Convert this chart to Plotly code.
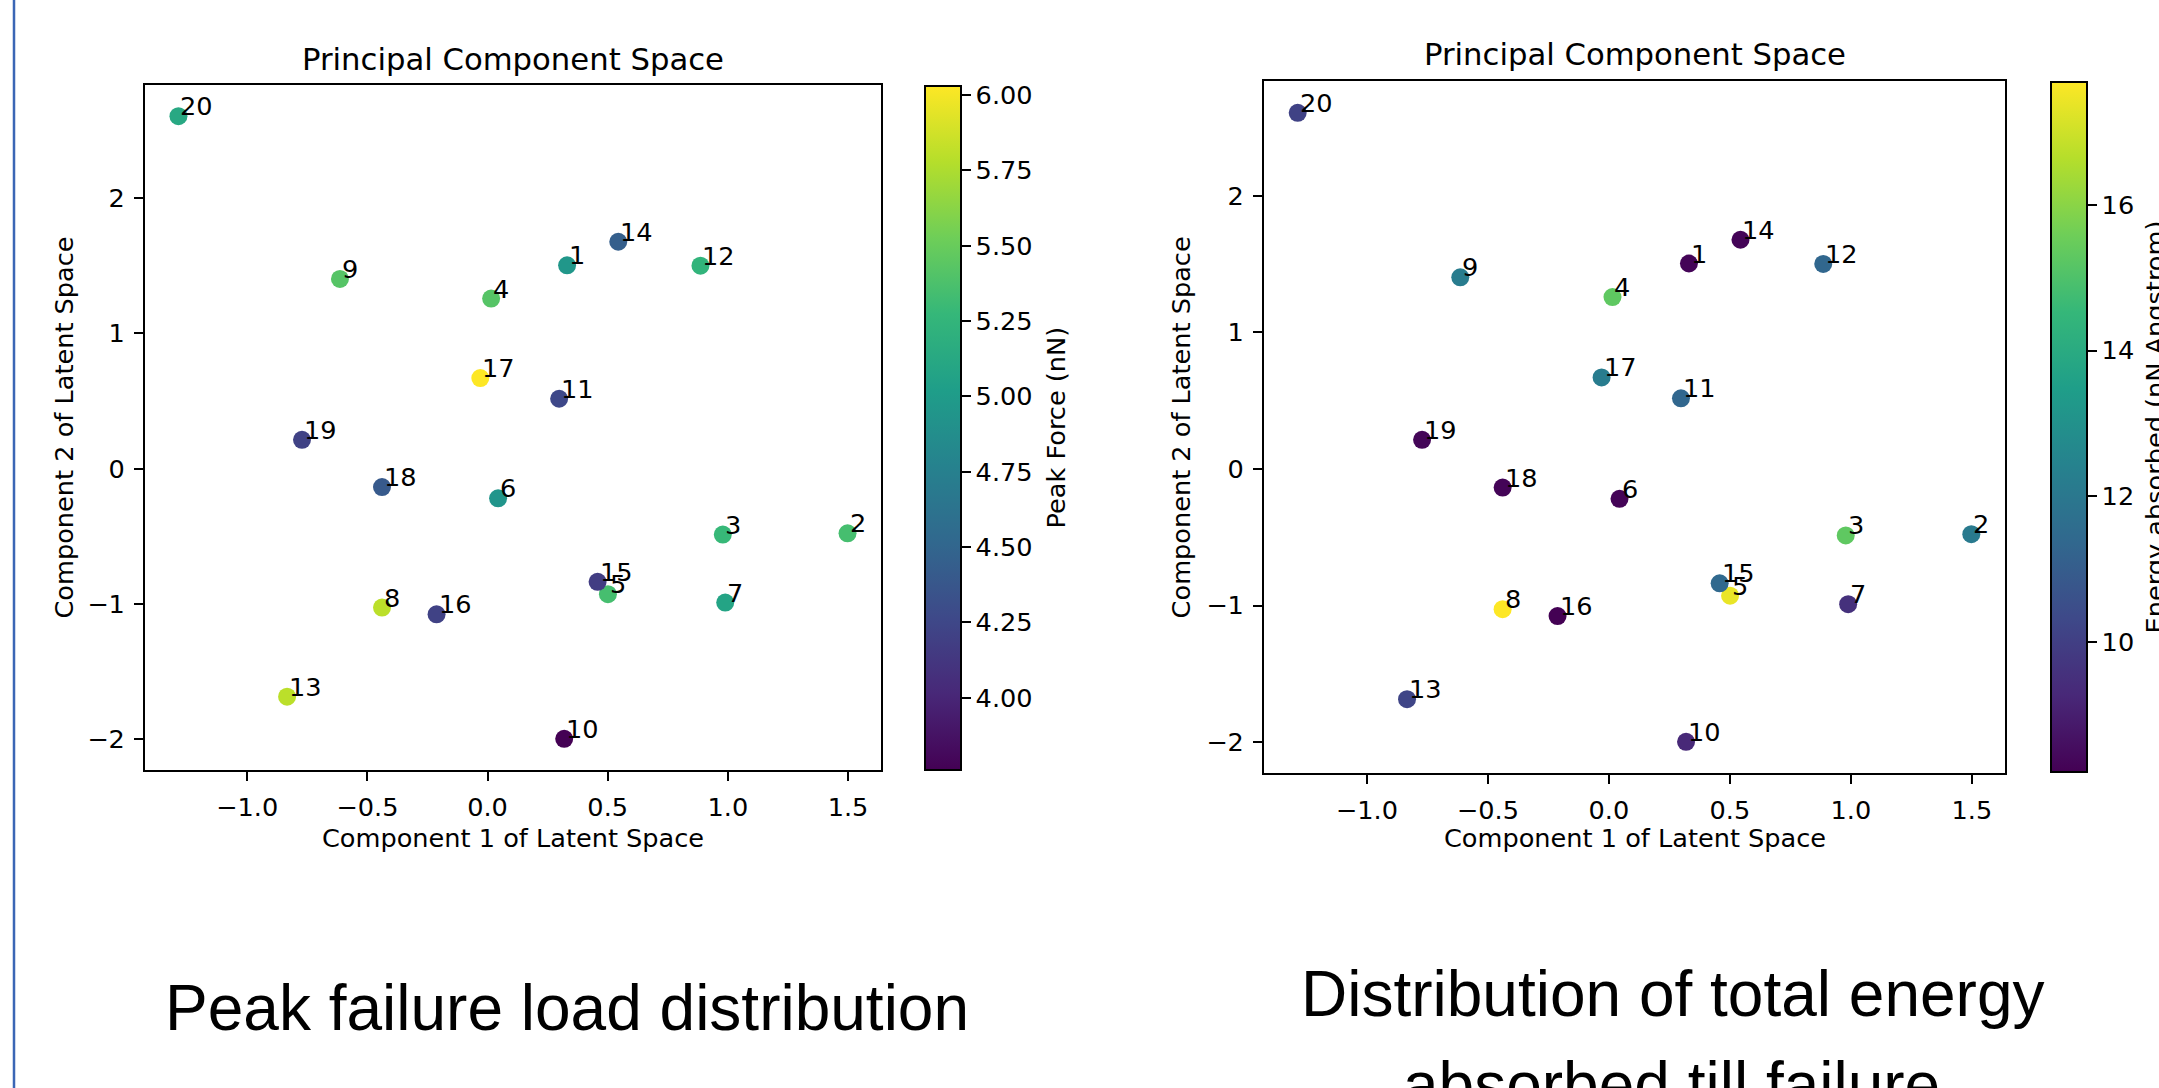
import plotly.graph_objects as go

W, H = 2159, 1088

# ---- data ----
point_ids = [1, 2, 3, 4, 5, 6, 7, 8, 9, 10, 11, 12, 13, 14, 15, 16, 17, 18, 19, 20]
pc1 = [0.331, 1.498, 0.979, 0.015, 0.501, 0.044, 0.989, -0.439, -0.614, 0.319,
       0.298, 0.886, -0.834, 0.544, 0.458, -0.212, -0.030, -0.439, -0.772, -1.286]
pc2 = [1.504, -0.478, -0.487, 1.258, -0.928, -0.219, -0.990, -1.027, 1.403, -1.998,
       0.517, 1.501, -1.686, 1.678, -0.837, -1.077, 0.670, -0.136, 0.213, 2.607]
peak_force = [4.96, 5.35, 5.28, 5.42, 5.35, 4.94, 5.08, 5.80, 5.42, 3.76,
              4.26, 5.24, 5.80, 4.44, 4.17, 4.21, 6.03, 4.40, 4.21, 5.12]
energy = [8.30, 12.10, 15.30, 15.30, 17.40, 8.30, 9.55, 17.69, 12.20, 9.30,
          11.35, 11.35, 10.20, 8.30, 11.40, 8.22, 12.20, 8.30, 8.35, 10.10]

x_ticks = [-1.0, -0.5, 0.0, 0.5, 1.0, 1.5]
y_ticks = [-2, -1, 0, 1, 2]
force_ticks = [4.00, 4.25, 4.50, 4.75, 5.00, 5.25, 5.50, 5.75, 6.00]
energy_ticks = [10, 12, 14, 16]

plot_title = "Principal Component Space"
x_label = "Component 1 of Latent Space"
y_label = "Component 2 of Latent Space"
force_label = "Peak Force (nN)"
energy_label = "Energy absorbed (nN Angstrom)"
caption_left = "Peak failure load distribution"
caption_right_lines = ["Distribution of total energy", "absorbed till failure"]

# ---- helpers for layout positions (pixels -> paper) ----
def fx(p):
    return p / W

def fy(p):
    return 1 - p / H

def padded(vals, frac=0.05):
    lo, hi = min(vals), max(vals)
    d = (hi - lo) * frac
    return [lo - d, hi + d]

xr = padded(pc1)
yr = padded(pc2)

FONT = "DejaVu Sans"
TICK = 25.6
TITLE = 30.7

fig = go.Figure()

def cbar(x_left, top, bottom, ticks, fmt):
    return dict(
        x=fx(x_left), xanchor="left", xpad=0, ypad=0,
        y=fy((top + bottom) / 2), yanchor="middle",
        len=bottom - top, lenmode="pixels",
        thickness=36, thicknessmode="pixels",
        outlinewidth=2, outlinecolor="black",
        ticks="outside", ticklen=9, tickwidth=2, tickcolor="black",
        tickvals=ticks, tickformat=fmt,
        tickfont=dict(family=FONT, size=TICK, color="black"),
    )

fig.add_trace(go.Scatter(
    x=pc1, y=pc2, mode="markers", xaxis="x", yaxis="y",
    marker=dict(size=18, color=peak_force, colorscale="Viridis",
                line=dict(width=0),
                colorbar=cbar(925, 86, 770, force_ticks, ".2f")),
    hoverinfo="skip", showlegend=False,
))
fig.add_trace(go.Scatter(
    x=pc1, y=pc2, mode="markers", xaxis="x2", yaxis="y2",
    marker=dict(size=18, color=energy, colorscale="Viridis",
                line=dict(width=0),
                colorbar=cbar(2051, 81.6, 771.7, energy_ticks, "d")),
    hoverinfo="skip", showlegend=False,
))

axis_common = dict(
    showline=True, mirror=True, linecolor="black", linewidth=2,
    ticks="outside", ticklen=9, tickwidth=2, tickcolor="black",
    showgrid=False, zeroline=False,
    tickfont=dict(family=FONT, size=TICK, color="black"),
    ticklabelstandoff=4,
)

fig.update_layout(
    width=W, height=H,
    margin=dict(l=0, r=0, t=0, b=0),
    paper_bgcolor="white", plot_bgcolor="white",
    showlegend=False,
    xaxis=dict(domain=[fx(145), fx(881)], range=xr, tickvals=x_ticks,
               tickformat=".1f", anchor="y", **axis_common),
    yaxis=dict(domain=[fy(770), fy(85)], range=yr, tickvals=y_ticks,
               tickformat="d", anchor="x", **axis_common),
    xaxis2=dict(domain=[fx(1264), fx(2005)], range=xr, tickvals=x_ticks,
                tickformat=".1f", anchor="y2", **axis_common),
    yaxis2=dict(domain=[fy(773.3), fy(81.4)], range=yr, tickvals=y_ticks,
                tickformat="d", anchor="x2", **axis_common),
)

ann = []

# point labels
for xa, ya in (("x", "y"), ("x2", "y2")):
    for pid, a, b in zip(point_ids, pc1, pc2):
        ann.append(dict(x=a, y=b, xref=xa, yref=ya, text=str(pid),
                        showarrow=False, xanchor="left", yanchor="bottom",
                        yshift=-7, xshift=0,
                        font=dict(family=FONT, size=TICK, color="black")))

def paper_text(text, x, y, size, family=FONT, angle=0, xanchor="center",
               yanchor="middle"):
    return dict(text=text, x=fx(x), y=fy(y), xref="paper", yref="paper",
                showarrow=False, xanchor=xanchor, yanchor=yanchor,
                textangle=angle, font=dict(family=family, size=size, color="black"))

# titles
ann.append(paper_text(plot_title, 513, 59.8, TITLE))
ann.append(paper_text(plot_title, 1634.5, 54.7, TITLE))
# axis titles
ann.append(paper_text(x_label, 513, 838, TICK))
ann.append(paper_text(x_label, 1634.5, 838, TICK))
ann.append(paper_text(y_label, 63, 427.5, TICK, angle=-90))
ann.append(paper_text(y_label, 1181, 427.4, TICK, angle=-90))
# colorbar titles
ann.append(paper_text(force_label, 1055.5, 428, TICK, angle=-90))
ann.append(paper_text(energy_label, 2154.8, 426.7, TICK, angle=-90))
# captions
ann.append(paper_text(caption_left, 566.5, 1008, 64, family="Liberation Sans"))
ann.append(paper_text(caption_right_lines[0], 1673, 994, 64, family="Liberation Sans"))
ann.append(paper_text(caption_right_lines[1], 1671, 1085, 64, family="Liberation Sans"))

fig.update_layout(annotations=ann)

# slide border line on the left
fig.add_shape(type="line", xref="paper", yref="paper",
              x0=fx(14), x1=fx(14), y0=0, y1=1,
              line=dict(color="#3b66b5", width=2.5))

fig.write_html("out.html")
